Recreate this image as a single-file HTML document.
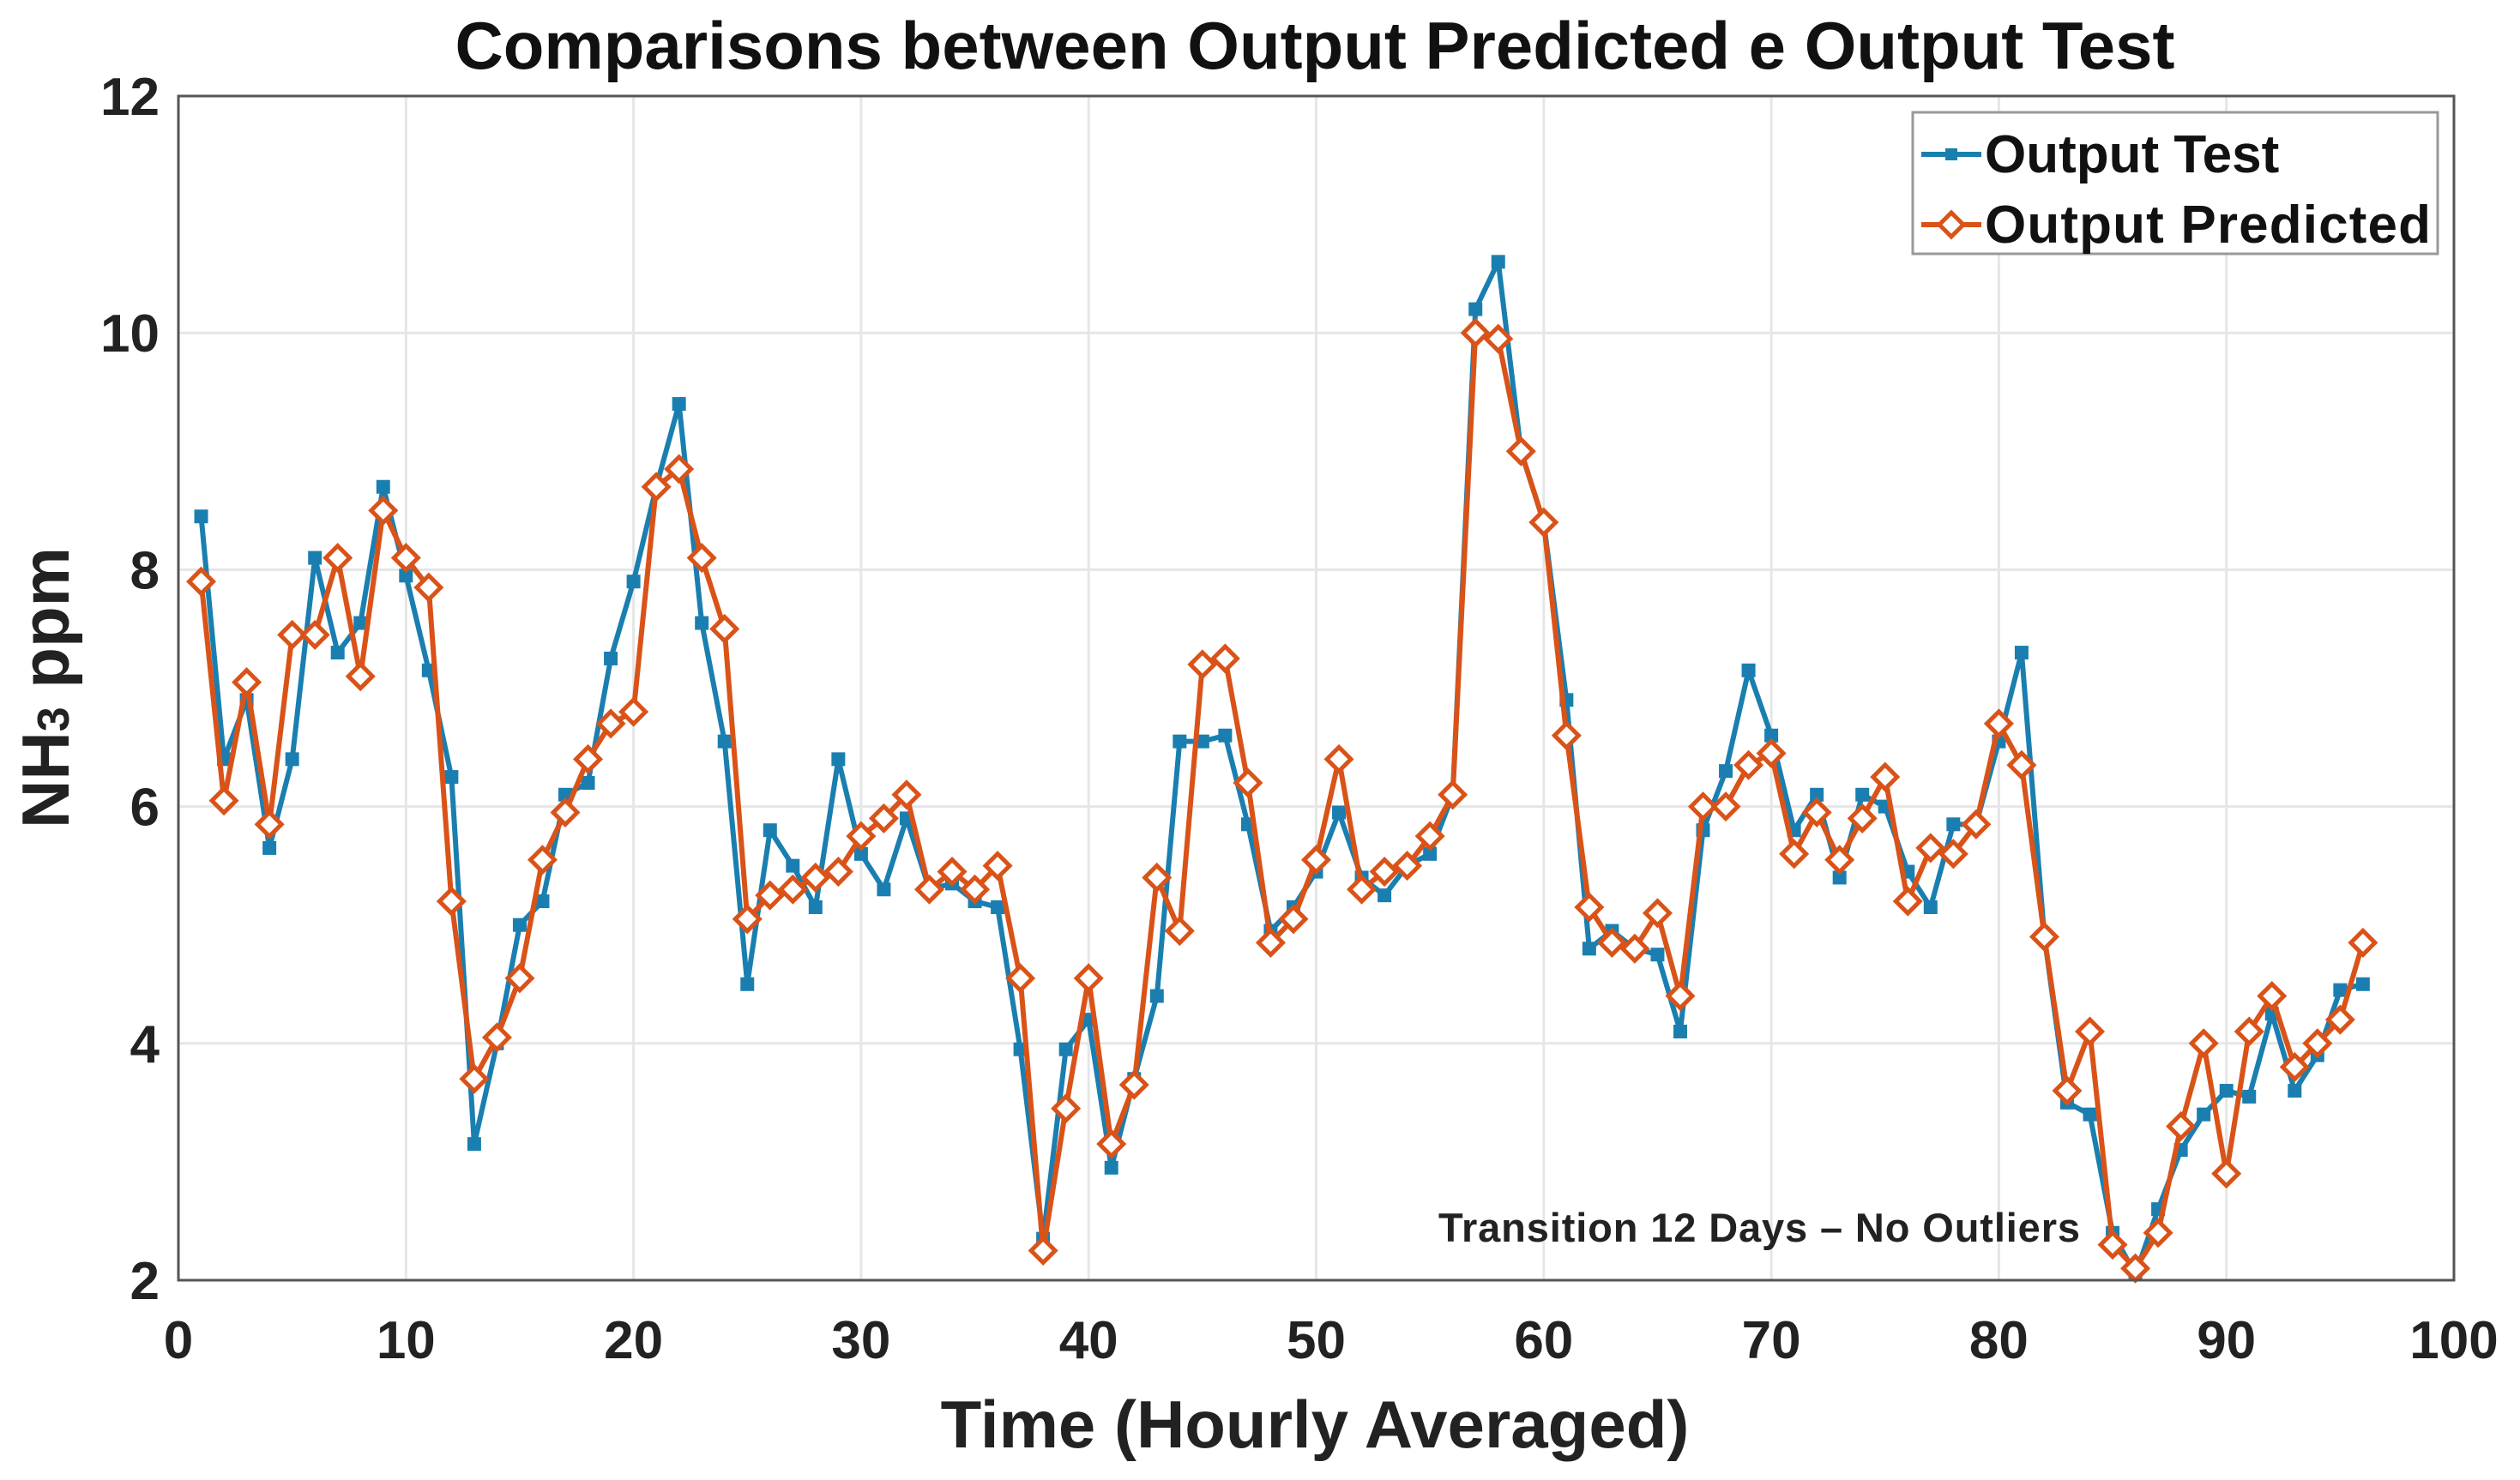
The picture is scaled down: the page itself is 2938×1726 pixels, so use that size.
<!DOCTYPE html>
<html><head><meta charset="utf-8"><style>
html,body{margin:0;padding:0;background:#fff;}
svg{display:block;font-family:"Liberation Sans",Arial,sans-serif;}
</style></head><body>
<svg id="chart" width="2938" height="1726" viewBox="0 0 2938 1726" xmlns="http://www.w3.org/2000/svg">
<rect x="0" y="0" width="2938" height="1726" fill="#fff"/>
<g id="grid"></g>
<g id="series"></g>
<rect x="208" y="112" width="2653" height="1381" fill="none" stroke="#555" stroke-width="3"/>
<g id="ticks" font-size="62" font-weight="bold" fill="#222"></g>
<text x="1533" y="80" text-anchor="middle" font-size="78" font-weight="bold" fill="#111">Comparisons between Output Predicted e Output  Test</text>
<text x="1533" y="1688" text-anchor="middle" font-size="78" font-weight="bold" fill="#222">Time (Hourly Averaged)</text>
<text transform="translate(80,802) rotate(-90)" text-anchor="middle" font-size="78" font-weight="bold" fill="#222">NH<tspan font-size="52">3</tspan> ppm</text>
<text x="1677" y="1448" font-size="47" font-weight="bold" fill="#222" textLength="748">Transition 12 Days – No Outliers</text>
<g>
<rect x="2230" y="131" width="612" height="165" fill="#fff" stroke="#999" stroke-width="3"/>
<line x1="2240" y1="180" x2="2310" y2="180" stroke="#1a7fb0" stroke-width="6"/>
<rect x="2268" y="173" width="14" height="14" fill="#1a7fb0"/>
<text x="2314" y="201" font-size="62" font-weight="bold" fill="#111">Output Test</text>
<line x1="2240" y1="262" x2="2310" y2="262" stroke="#d95319" stroke-width="6"/>
<polygon points="2275,248 2289,262 2275,276 2261,262" fill="#fff" stroke="#d95319" stroke-width="5"/>
<text x="2314" y="283" font-size="62" font-weight="bold" fill="#111" textLength="520">Output Predicted</text>
</g>
</svg>
<script>
const testValues=[8.45,6.4,6.9,5.65,6.4,8.1,7.3,7.55,8.7,7.95,7.15,6.25,3.15,4.0,5.0,5.2,6.1,6.2,7.25,7.9,8.7,9.4,7.55,6.55,4.5,5.8,5.5,5.15,6.4,5.6,5.3,5.9,5.3,5.35,5.2,5.15,3.95,2.35,3.95,4.2,2.95,3.7,4.4,6.55,6.55,6.6,5.85,4.95,5.15,5.45,5.95,5.4,5.25,5.5,5.6,6.1,10.2,10.6,9.0,8.4,6.9,4.8,4.95,4.8,4.75,4.1,5.8,6.3,7.15,6.6,5.8,6.1,5.4,6.1,6.0,5.45,5.15,5.85,5.85,6.55,7.3,4.9,3.5,3.4,2.4,2.05,2.6,3.1,3.4,3.6,3.55,4.25,3.6,3.9,4.45,4.5];
const predictedValues=[7.9,6.05,7.05,5.85,7.45,7.45,8.1,7.1,8.5,8.1,7.85,5.2,3.7,4.05,4.55,5.55,5.95,6.4,6.7,6.8,8.7,8.85,8.1,7.5,5.05,5.25,5.3,5.4,5.45,5.75,5.9,6.1,5.3,5.45,5.3,5.5,4.55,2.25,3.45,4.55,3.15,3.65,5.4,4.95,7.2,7.25,6.2,4.85,5.05,5.55,6.4,5.3,5.45,5.5,5.75,6.1,10.0,9.95,9.0,8.4,6.6,5.15,4.85,4.8,5.1,4.4,6.0,6.0,6.35,6.45,5.6,5.95,5.55,5.9,6.25,5.2,5.65,5.6,5.85,6.7,6.35,4.9,3.6,4.1,2.3,2.1,2.4,3.3,4.0,2.9,4.1,4.4,3.8,4.0,4.2,4.85];
const xTicks=[0,10,20,30,40,50,60,70,80,90,100];
const yTicks=[2,4,6,8,10,12];

const NS="http://www.w3.org/2000/svg";
const L=208,R=2861,T=112,B=1493;
function xs(v){return L+(v-0)/(100-0)*(R-L);}
function ys(v){return B-(v-2)/(12-2)*(B-T);}
function mk(tag,attrs,parent){const e=document.createElementNS(NS,tag);for(const k in attrs)e.setAttribute(k,attrs[k]);parent.appendChild(e);return e;}
const grid=document.getElementById('grid'),ticks=document.getElementById('ticks'),series=document.getElementById('series');
xTicks.forEach(t=>{
  const g=mk('line',{x1:xs(t),x2:xs(t),y1:T,y2:B,stroke:'#e6e6e6','stroke-width':3},grid);
  
  
  const tx=mk('text',{x:xs(t),y:1584,'text-anchor':'middle'},ticks);
  tx.textContent=t;
  
  
});
yTicks.forEach(t=>{
  const g=mk('line',{x1:L,x2:R,y1:ys(t),y2:ys(t),stroke:'#e6e6e6','stroke-width':3},grid);
  
  
  const tx=mk('text',{x:186,y:ys(t)+22,'text-anchor':'end'},ticks);
  tx.textContent=t;
  
  
});
function pts(arr){return arr.map((v,i)=>xs(i+1)+','+ys(v)).join(' ');}
const lt=mk('polyline',{points:pts(testValues),fill:'none',stroke:'#1a7fb0','stroke-width':6,'stroke-linejoin':'round'},series);


testValues.forEach((v,i)=>{
  const m=mk('rect',{x:xs(i+1)-8,y:ys(v)-8,width:16,height:16,fill:'#1a7fb0'},series);
  
  
});
const lp=mk('polyline',{points:pts(predictedValues),fill:'none',stroke:'#d95319','stroke-width':6,'stroke-linejoin':'round'},series);


predictedValues.forEach((v,i)=>{
  const x=xs(i+1),y=ys(v),r=14;
  const m=mk('polygon',{points:`${x},${y-r} ${x+r},${y} ${x},${y+r} ${x-r},${y}`,fill:'#fff',stroke:'#d95319','stroke-width':5},series);
  
  
});
</script>
</body></html>
